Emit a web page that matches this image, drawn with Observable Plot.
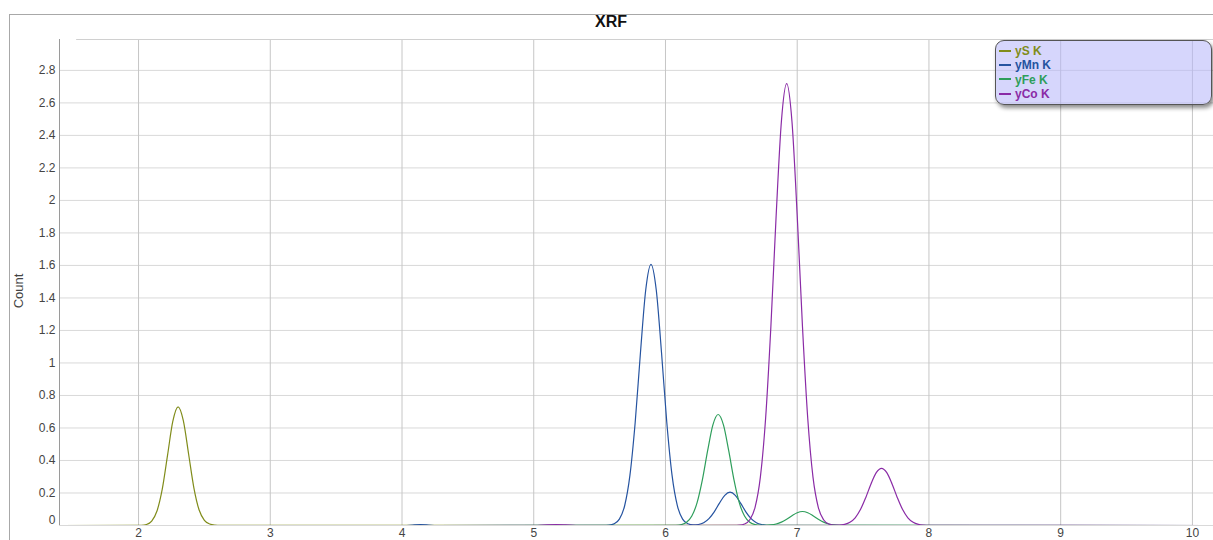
<!DOCTYPE html>
<html>
<head>
<meta charset="utf-8">
<script src="https://cdn.jsdelivr.net/npm/d3@7"></script>
<script src="https://cdn.jsdelivr.net/npm/@observablehq/plot@0.6"></script>
<style>
  html, body { margin: 0; padding: 0; background: #fff; width: 1213px; height: 540px; overflow: hidden; position: relative; font-family: Arial, "Liberation Sans", sans-serif; }
  #frame { position: absolute; left: 9px; top: 14px; width: 1220px; height: 600px; border: 1px solid #a8a8a8; box-sizing: border-box; }
  #title { position: absolute; left: 0; top: 13px; width: 1222px; text-align: center; font-weight: bold; font-size: 16px; color: #111; }
  #chart { position: absolute; left: 0; top: 0; }
  #chart svg { overflow: visible; }
  #ylabel { position: absolute; left: 18px; top: 291px; transform: translate(-50%, -50%) rotate(-90deg); font-size: 13px; color: #444; white-space: nowrap; }
  #legend { position: absolute; left: 995px; top: 40px; width: 217px; height: 65px; box-sizing: border-box; background: rgba(180,180,250,0.55); border: 1px solid #555; border-radius: 9px; box-shadow: 2px 3px 4px rgba(0,0,0,0.45); padding: 3px 0 0 3px; }
  .item { height: 14.3px; line-height: 14.3px; font-size: 12px; font-weight: bold; white-space: nowrap; }
  .sw { display: inline-block; width: 12px; height: 0; border-top: 2px solid; vertical-align: middle; margin-right: 4px; position: relative; top: -1px; }
</style>
</head>
<body>
<div id="frame"></div>
<div id="title">XRF</div>
<div id="chart"></div>
<div id="ylabel">Count</div>
<div id="legend"></div>
<script>
// ---- data ----
const seriesNames = ["yS K", "yMn K", "yFe K", "yCo K"];
const seriesColors = ["#808c1a", "#2553a0", "#2e9e5b", "#8a2ba6"];

const xTicks = [2, 3, 4, 5, 6, 7, 8, 9, 10];
const yTicks = [0, 0.2, 0.4, 0.6, 0.8, 1, 1.2, 1.4, 1.6, 1.8, 2, 2.2, 2.4, 2.6, 2.8];
const xDomain = [1.4, 10.16];
const yDomain = [0, 2.99];

const sX = [1.4, 1.98, 2.02, 2.06, 2.10, 2.14, 2.18, 2.22, 2.26, 2.30, 2.34, 2.38, 2.42, 2.46, 2.50, 2.54, 2.58, 2.62, 10.16];
const sY = [0, 0.0002, 0.0012, 0.0064, 0.0273, 0.089, 0.2235, 0.431, 0.640, 0.730, 0.645, 0.440, 0.232, 0.095, 0.032, 0.0095, 0.0025, 0.0006, 0];

const mnX = [1.4, 4.02, 4.08, 4.14, 4.20, 4.26, 5.53, 5.57, 5.61, 5.65, 5.69, 5.73, 5.77, 5.81, 5.85, 5.89, 5.93, 5.97, 6.01, 6.05, 6.09, 6.13, 6.17, 6.21, 6.25, 6.29, 6.33, 6.37, 6.41, 6.45, 6.49, 6.53, 6.57, 6.61, 6.65, 6.69, 6.73, 6.77, 6.81, 10.16];
const mnY = [0, 0, 0.003, 0.005, 0.003, 0, 0.0004, 0.0022, 0.0102, 0.039, 0.1215, 0.308, 0.634, 1.063, 1.449, 1.607, 1.449, 1.063, 0.634, 0.308, 0.122, 0.039, 0.0106, 0.0038, 0.0063, 0.0174, 0.0422, 0.0843, 0.138, 0.1857, 0.205, 0.1857, 0.138, 0.0843, 0.0422, 0.0174, 0.0059, 0.0016, 0.0004, 0];

const feX = [1.4, 6.04, 6.08, 6.12, 6.16, 6.20, 6.24, 6.28, 6.32, 6.36, 6.40, 6.44, 6.48, 6.52, 6.56, 6.60, 6.64, 6.68, 6.72, 6.76, 6.80, 6.84, 6.88, 6.92, 6.96, 7.00, 7.04, 7.08, 7.12, 7.16, 7.20, 7.24, 7.28, 7.32, 7.36, 10.16];
const feY = [0, 0.0002, 0.0012, 0.0054, 0.0195, 0.0579, 0.141, 0.281, 0.460, 0.619, 0.683, 0.619, 0.460, 0.281, 0.141, 0.0579, 0.0195, 0.0054, 0.0015, 0.0013, 0.0035, 0.0094, 0.0208, 0.0387, 0.0603, 0.0787, 0.086, 0.0787, 0.0603, 0.0387, 0.0208, 0.0094, 0.0035, 0.0011, 0.0003, 0];

const coX = [1.4, 5.03, 5.10, 5.17, 5.24, 5.32, 6.52, 6.56, 6.60, 6.64, 6.68, 6.72, 6.76, 6.80, 6.84, 6.88, 6.92, 6.96, 7.00, 7.04, 7.08, 7.12, 7.16, 7.20, 7.24, 7.28, 7.32, 7.36, 7.40, 7.44, 7.48, 7.52, 7.56, 7.60, 7.64, 7.68, 7.72, 7.76, 7.80, 7.84, 7.88, 7.92, 7.96, 8.00, 10.16];
const coY = [0, 0, 0.004, 0.006, 0.004, 0, 0.0004, 0.0021, 0.0092, 0.0353, 0.1117, 0.296, 0.658, 1.223, 1.906, 2.487, 2.718, 2.487, 1.906, 1.223, 0.658, 0.296, 0.1117, 0.0353, 0.0093, 0.0026, 0.0025, 0.0070, 0.0198, 0.0476, 0.0979, 0.1713, 0.2556, 0.325, 0.352, 0.325, 0.2556, 0.1713, 0.0979, 0.0476, 0.0198, 0.0070, 0.0021, 0.0005, 0];

// ---- build table ----
const allX = [sX, mnX, feX, coX];
const allY = [sY, mnY, feY, coY];
const rows = [];
seriesNames.forEach((name, i) => {
  allX[i].forEach((x, j) => rows.push({series: name, x, y: allY[i][j]}));
});

const fmt = d => String(d);

const chart = Plot.plot({
  width: 1213,
  height: 540,
  marginLeft: 59,
  marginRight: 0,
  marginTop: 39,
  marginBottom: 15,
  x: {domain: xDomain},
  y: {domain: yDomain},
  color: {domain: seriesNames, range: seriesColors},
  style: {fontFamily: "Arial, 'Liberation Sans', sans-serif", fontSize: "12px", color: "#444", background: "transparent"},
  marks: [
    Plot.gridY(yTicks, {stroke: "#d9d9d9", strokeOpacity: 1}),
    Plot.gridX(xTicks, {stroke: "#c6c6c6", strokeOpacity: 1}),
    Plot.ruleY([yDomain[1]], {x1: 1.53, x2: xDomain[1], stroke: "#d0d0d0"}),
    Plot.ruleX([xDomain[0]], {stroke: "#9a9a9a"}),
    Plot.axisY(yTicks.filter(d => d > 0), {tickSize: 0, tickPadding: 4, label: null, fill: "#444", tickFormat: fmt}),
    Plot.axisY([0], {tickSize: 0, tickPadding: 4, dy: -5, label: null, fill: "#444", tickFormat: fmt}),
    Plot.axisX(xTicks, {tickSize: 0, tickPadding: 3, label: null, fill: "#444", tickFormat: fmt}),
    Plot.line(rows, {x: "x", y: "y", z: "series", stroke: "series", curve: "monotone-x", strokeWidth: 1.2, clip: true})
  ]
});
document.getElementById("chart").appendChild(chart);

// ---- legend ----
const legend = document.getElementById("legend");
seriesNames.forEach((name, i) => {
  const item = document.createElement("div");
  item.className = "item";
  item.style.color = seriesColors[i];
  const sw = document.createElement("span");
  sw.className = "sw";
  sw.style.borderTopColor = seriesColors[i];
  item.appendChild(sw);
  item.appendChild(document.createTextNode(name));
  legend.appendChild(item);
});
</script>
</body>
</html>
